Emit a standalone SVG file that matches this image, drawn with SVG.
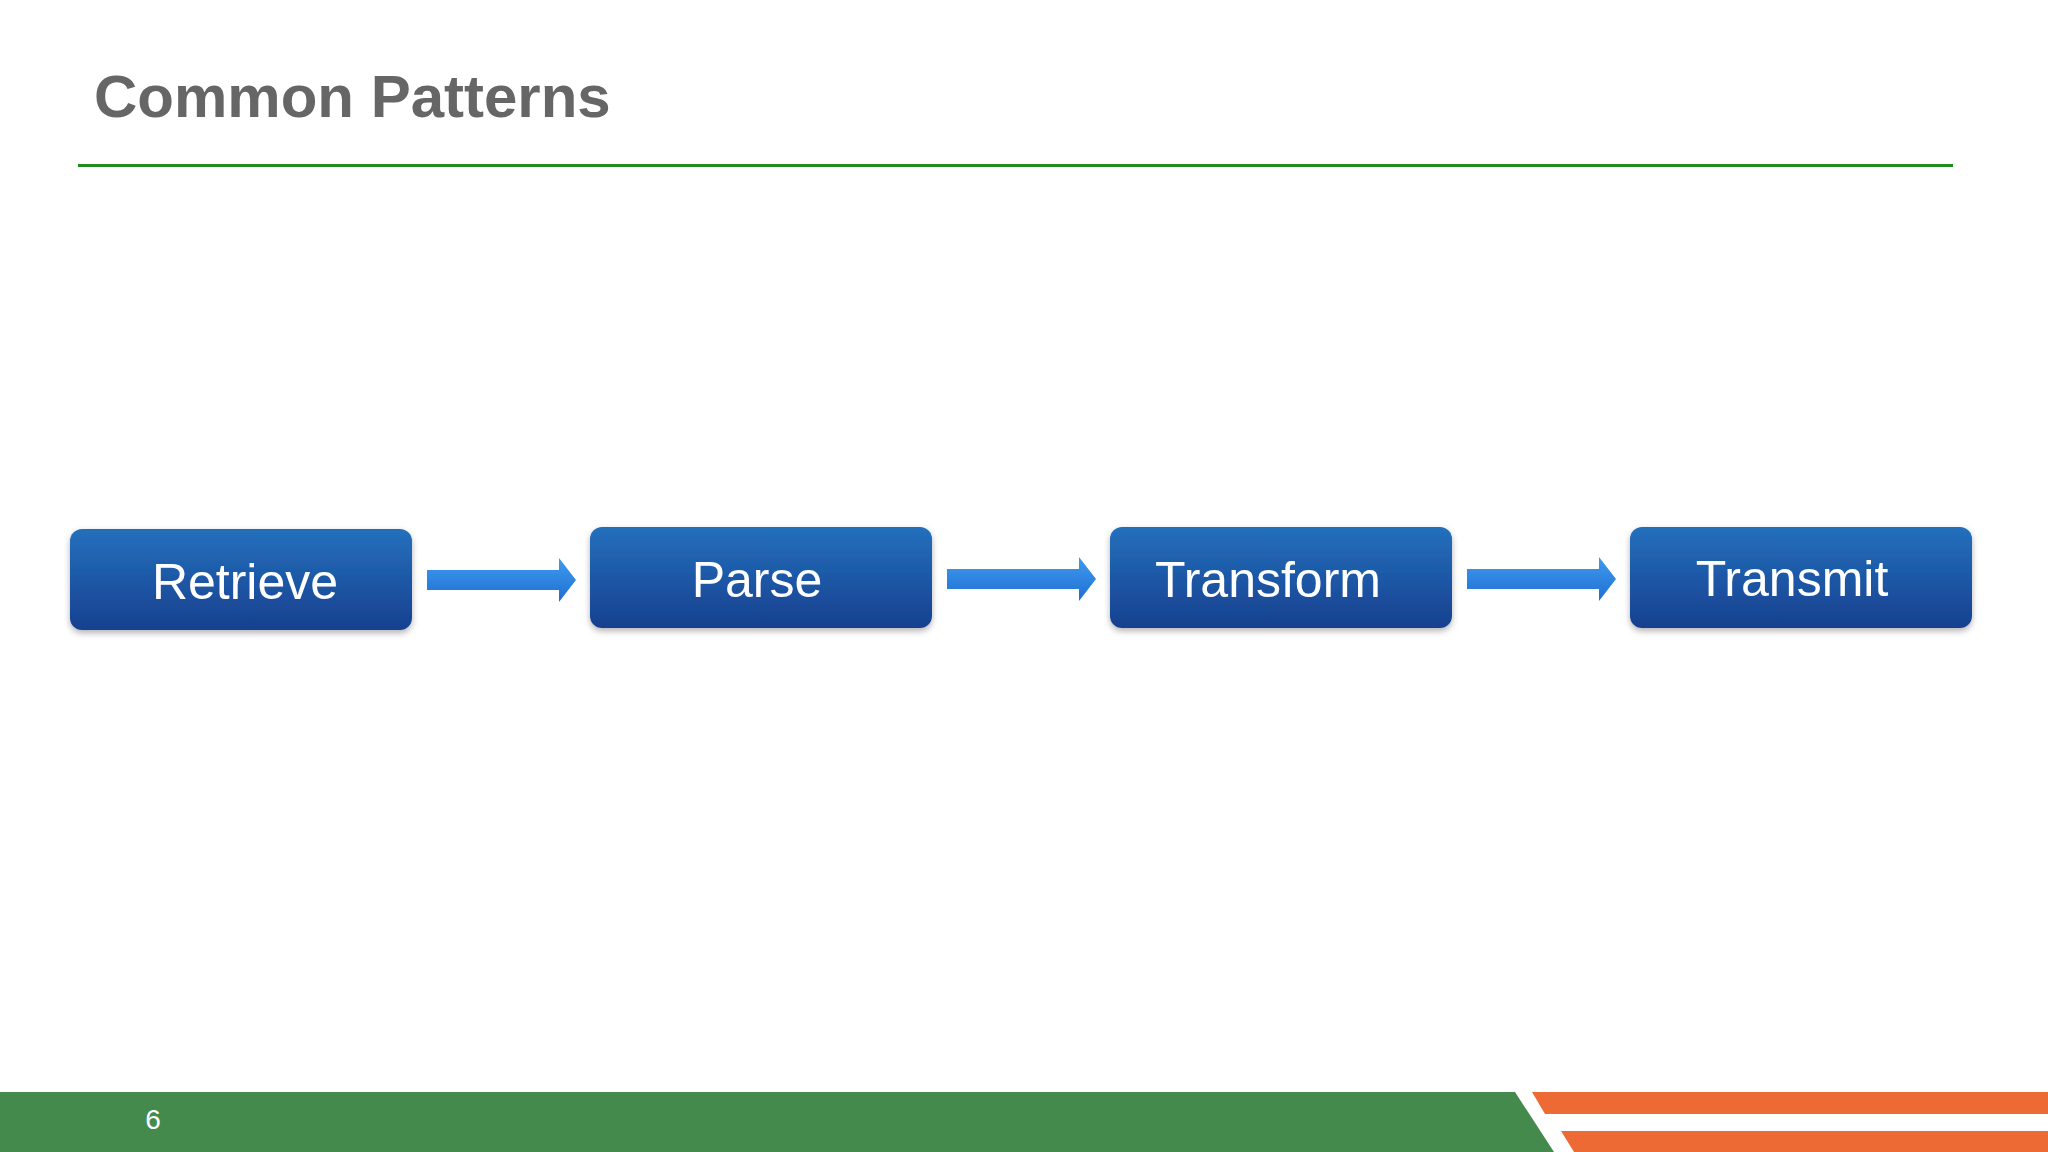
<svg xmlns="http://www.w3.org/2000/svg" width="2048" height="1152" viewBox="0 0 2048 1152">
<defs>
<linearGradient id="nb" x1="0" y1="0" x2="0" y2="1"><stop offset="0" stop-color="#2470bd"/><stop offset="1" stop-color="#17408f"/></linearGradient>
<linearGradient id="ab" x1="0" y1="0" x2="0" y2="1"><stop offset="0" stop-color="#3f9bf0"/><stop offset="1" stop-color="#1f6fd0"/></linearGradient>
<filter id="sh" x="-10%" y="-20%" width="120%" height="150%"><feDropShadow dx="0" dy="3" stdDeviation="3" flood-color="#000" flood-opacity="0.3"/></filter>
</defs>
<style>
.n{fill:url(#nb);filter:url(#sh)}
.t{font-family:"Liberation Sans",Arial,sans-serif;font-size:50px;fill:#fff;text-anchor:middle}
.a{fill:url(#ab)}
</style>
<rect width="2048" height="1152" fill="#fff"/>
<text x="94" y="117" font-family="Liberation Sans,Arial,sans-serif" font-weight="bold" font-size="60" fill="#666">Common Patterns</text>
<rect x="78" y="164" width="1875" height="3" fill="#1e8c1e"/>
<g id="connectors">
<path class="a" d="M427 570H559V558L576 580L559 602V590H427Z"/>
<path class="a" d="M947 569H1079V557L1096 579L1079 601V589H947Z"/>
<path class="a" d="M1467 569H1599V557L1616 579L1599 601V589H1467Z"/>
</g>
<g id="retrieve"><rect class="n" x="70" y="529" width="342" height="101" rx="12"/><text class="t" x="245" y="599">Retrieve</text></g>
<g id="parse"><rect class="n" x="590" y="527" width="342" height="101" rx="12"/><text class="t" x="757" y="597">Parse</text></g>
<g id="transform"><rect class="n" x="1110" y="527" width="342" height="101" rx="12"/><text class="t" x="1268" y="597">Transform</text></g>
<g id="transmit"><rect class="n" x="1630" y="527" width="342" height="101" rx="12"/><text class="t" x="1792" y="596">Transmit</text></g>
<path d="M0 1092H1515L1554 1152H0Z" fill="#448a4c"/>
<path d="M1532 1092H2048V1114H1545Z" fill="#ee6a35"/>
<path d="M1561 1131H2048V1152H1574Z" fill="#ee6a35"/>
<text x="153" y="1129" font-family="Liberation Sans,Arial,sans-serif" font-size="28" fill="#fff" text-anchor="middle">6</text>
</svg>
